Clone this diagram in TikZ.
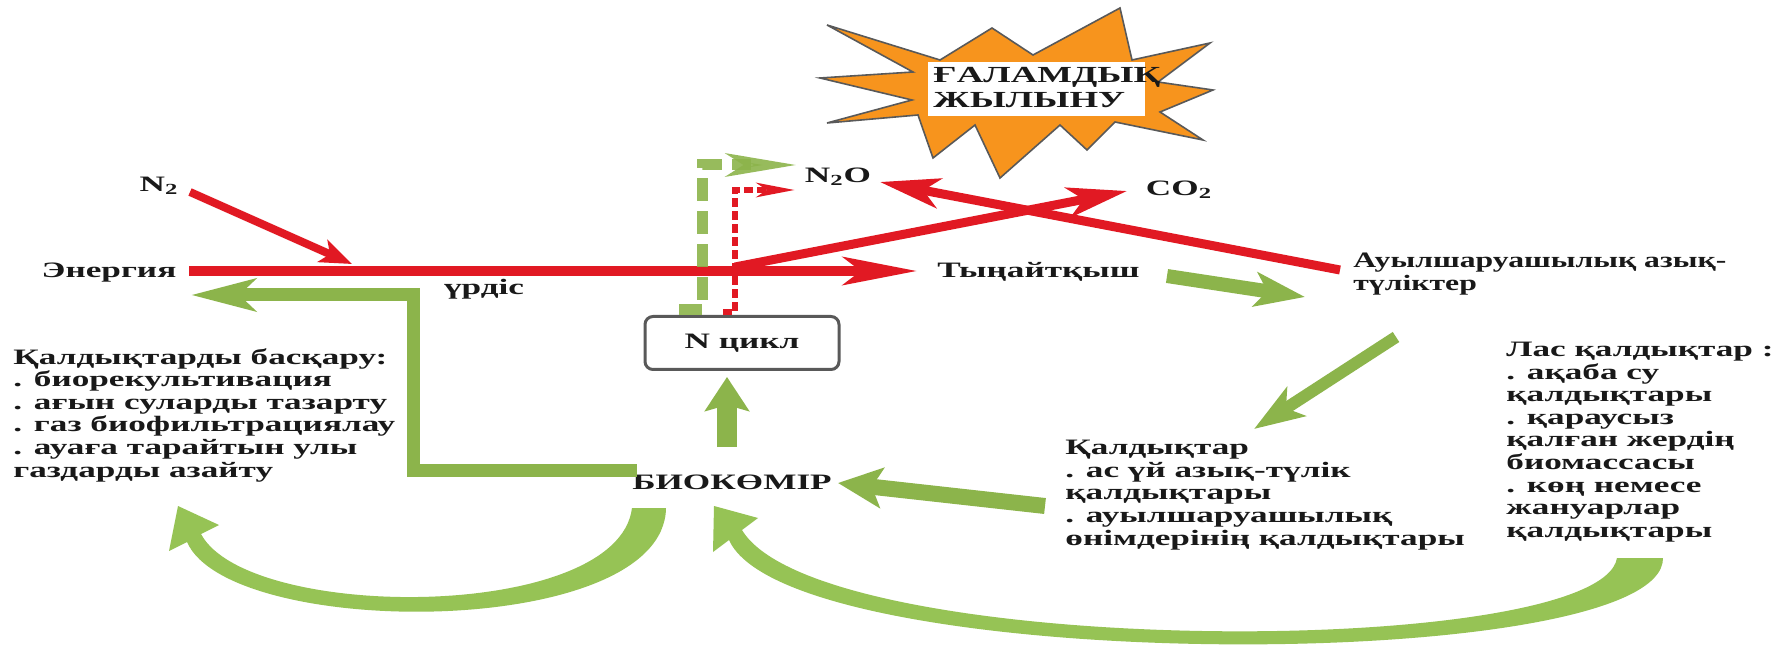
\documentclass[tikz,border=0pt]{standalone}
\usepackage{fontspec}
\setmainfont{Liberation Serif}[FakeStretch=1.6]
\newfontfamily\narrowf{Liberation Serif}[FakeStretch=1.44]
\usetikzlibrary{arrows.meta}
\definecolor{rd}{RGB}{225,25,35}
\definecolor{gr}{RGB}{140,180,75}
\definecolor{grl}{RGB}{150,195,85}
\definecolor{org}{RGB}{247,148,29}
\begin{document}
\begin{tikzpicture}[x=0.5pt,y=-0.5pt,
  lbl/.style={font=\bfseries\fontsize{11}{11.3}\selectfont, inner sep=0pt, align=left, text=black!90},
  redline/.style={draw=rd, line width=#1},
  greenline/.style={draw=gr, line width=#1},
  bigred/.style={-{Stealth[length=37pt,width=14pt,inset=9pt]}},
  midred/.style={-{Stealth[length=30pt,width=15pt,inset=8pt]}},
  smallred/.style={-{Stealth[length=16pt,width=12pt,inset=4pt]}},
  greenhead/.style={-{Stealth[length=25pt,width=17pt,inset=6pt]}},
]
\useasboundingbox (0,0) rectangle (1771,646);
\fill[white] (0,0) rectangle (1771,646);

% star
\filldraw[fill=org, draw=black!65, line width=0.8pt, line join=miter]
 (820,78) -- (913,72) -- (827,25) -- (940,60) -- (992,28) -- (1033,55) --
 (1120,8) -- (1132,60) -- (1210,43) -- (1158,82) -- (1213,90) -- (1160,112) --
 (1203,140) -- (1115,122) -- (1087,150) -- (1060,125) -- (1000,178) -- (975,125) --
 (933,158) -- (918,115) -- (827,123) -- (912,100) -- cycle;
\fill[white] (928,62) rectangle (1145,116);
\node[lbl, font=\bfseries\fontsize{11.5}{12.5}\selectfont, anchor=west] (gw) at (933,88) {ҒАЛАМДЫҚ\\ЖЫЛЫНУ};

% labels
\node[lbl] (n2) at (159,186) {N\textsubscript{2}};
\node[lbl] (en) at (109,273) {Энергия};
\node[lbl] (ur) at (484,289) {үрдіс};
\node[lbl] (n2o) at (838,177) {N\textsubscript{2}O};
\node[lbl] (co2) at (1179,190) {CO\textsubscript{2}};
\node[lbl, anchor=west] (ty) at (937,272) {Тыңайтқыш};
\node[lbl, anchor=west, font=\narrowf\bfseries\fontsize{11}{11.3}\selectfont] (au) at (1353,274) {Ауылшаруашылық азық-\\түліктер};
\node[lbl, anchor=west] (kb) at (13,415) {Қалдықтарды басқару:\\. биорекультивация\\. ағын суларды тазарту\\. газ биофильтрациялау\\. ауаға тарайтын улы\\газдарды азайту};
\node[lbl, anchor=west] (kd) at (1065,495) {Қалдықтар\\. ас үй азық-түлік\\қалдықтары\\. ауылшаруашылық\\өнімдерінің қалдықтары};
\node[lbl, anchor=west] (lk) at (1506,442) {Лас қалдықтар :\\. ақаба су\\қалдықтары\\. қараусыз\\қалған жердің\\биомассасы\\. көң немесе\\жануарлар\\қалдықтары};
\node[lbl, draw=black!65, line width=1.5pt, fill=white, rounded corners=4pt,
  minimum width=97pt, minimum height=26.5pt] (nc) at (742,343) {N цикл};
\node[lbl] (bio) at (732,482) {БИОКӨМІР};

% coordinates
\coordinate (n2s) at (190,192);
\coordinate (n2e) at (352,264);
\coordinate (ms) at (189,271);
\coordinate (me) at (917,271);
\coordinate (bs) at (735,267);
\coordinate (be) at (1127,191);
\coordinate (as) at (1340,270);
\coordinate (ae) at (880,182);
\coordinate (gl1) at (637,470);
\coordinate (gl2) at (413,470);
\coordinate (gl3) at (413,295);
\coordinate (gl4) at (191,295);
\coordinate (gd0) at (679,310);
\coordinate (gd1) at (702,310);
\coordinate (gd2) at (702,165);
\coordinate (gd3) at (798,165);
\coordinate (rd0) at (723,312);
\coordinate (rd1) at (735,312);
\coordinate (rd2) at (735,190);
\coordinate (rd3) at (795,190);
\coordinate (ga1) at (1167,276);
\coordinate (ga2) at (1305,297);
\coordinate (gb1) at (1396,337);
\coordinate (gb2) at (1254,429);
\coordinate (gc1) at (1045,506);
\coordinate (gc2) at (838,483);
\coordinate (gu1) at (727,447);
\coordinate (gu2) at (727,377);

% red arrows
\draw[redline=5pt, bigred] (ms) -- (me);
\draw[redline=4pt, smallred] (n2s) -- (n2e);
\draw[redline=4.5pt, midred] (bs) -- (be);
\draw[redline=4.5pt, midred] (as) -- (ae);
\draw[redline=3pt, dash pattern=on 4.5pt off 2pt, -{Stealth[length=19pt,width=7pt,inset=5pt]}]
  (rd0) -- (rd1) -- (rd2) -- (rd3);

% green arrows
\draw[greenline=6.5pt, line join=miter, -{Stealth[length=32pt,width=16pt,inset=8pt]}]
  (gl1) -- (gl2) -- (gl3) -- (gl4);
\draw[greenline=5.5pt, opacity=0.9, dash pattern=on 11.5pt off 5pt, -{Stealth[length=35pt,width=11pt,inset=8pt]}]
  (gd0) -- (gd1) -- (gd2) -- (gd3);
\draw[greenline=7pt, greenhead] (ga1) -- (ga2);
\draw[greenline=6pt, greenhead] (gb1) -- (gb2);
\draw[greenline=8pt, -{Stealth[length=22pt,width=20pt,inset=5pt]}] (gc1) -- (gc2);
\draw[greenline=10pt, -{Stealth[length=17pt,width=22pt,inset=3pt]}] (gu1) -- (gu2);

% curved tapered arrows
\fill[grl] (187,542) .. controls (230,640) and (664,640) .. (666,508)
  -- (632,508) .. controls (618,622) and (248,622) .. (201,534)
  -- (219,525) -- (178,506) -- (169,551) -- cycle;
\fill[grl] (729,540) .. controls (790,676) and (1664,676) .. (1663,558)
  -- (1617,558) .. controls (1600,660) and (820,660) .. (742,530)
  -- (758,518) -- (714,506) -- (713,552) -- cycle;
\end{tikzpicture}
\end{document}
